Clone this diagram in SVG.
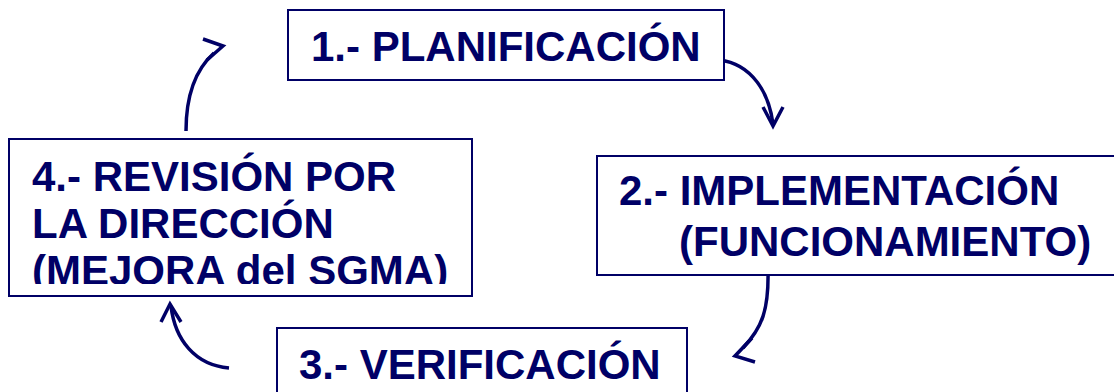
<svg xmlns="http://www.w3.org/2000/svg" width="1114" height="392" viewBox="0 0 1114 392">
<style>
.box{fill:#fff;stroke:#000066;stroke-width:2}
.t{font-family:"Liberation Sans",Arial,sans-serif;font-weight:bold;font-size:42px;fill:#000066}
.c{fill:none;stroke:#000066;stroke-width:3.5}
</style>
<defs>
<clipPath id="clip4"><rect x="0" y="139" width="480" height="145"/></clipPath>
</defs>
<rect width="1114" height="392" fill="#fff"/>
<g id="connectors">
<path class="c" d="M714,60 C745,60 768,85 773,124"/>
<path class="c" d="M763,107 L773,126 L783,107"/>
<path class="c" d="M768,269 C769,310 762,328 743,348"/>
<path class="c" d="M752,338 L735,356 L755,362"/>
<path class="c" d="M229,368 C195,365 175,340 171,306"/>
<path class="c" d="M161,322 L170,304 L181,322"/>
<path class="c" d="M186,131 C186,95 195,70 214,53"/>
<path class="c" d="M203,39 L223,46 L207,60"/>
</g>
<g id="node1">
<rect class="box" x="288" y="10" width="436" height="70"/>
<text class="t" x="311" y="61">1.- PLANIFICACIÓN</text>
</g>
<g id="node2">
<rect class="box" x="597" y="156" width="530" height="119"/>
<text class="t" x="619" y="205">2.- IMPLEMENTACIÓN</text>
<text class="t" x="679" y="256">(FUNCIONAMIENTO)</text>
</g>
<g id="node3">
<rect class="box" x="277" y="328" width="410" height="80"/>
<text class="t" x="299" y="379">3.- VERIFICACIÓN</text>
</g>
<g id="node4">
<rect class="box" x="9" y="139" width="463" height="157"/>
<g clip-path="url(#clip4)">
<text class="t" x="32" y="191">4.- REVISIÓN POR</text>
<text class="t" x="32" y="238">LA DIRECCIÓN</text>
<text class="t" x="32" y="285">(MEJORA del SGMA)</text>
</g>
</g>
</svg>
